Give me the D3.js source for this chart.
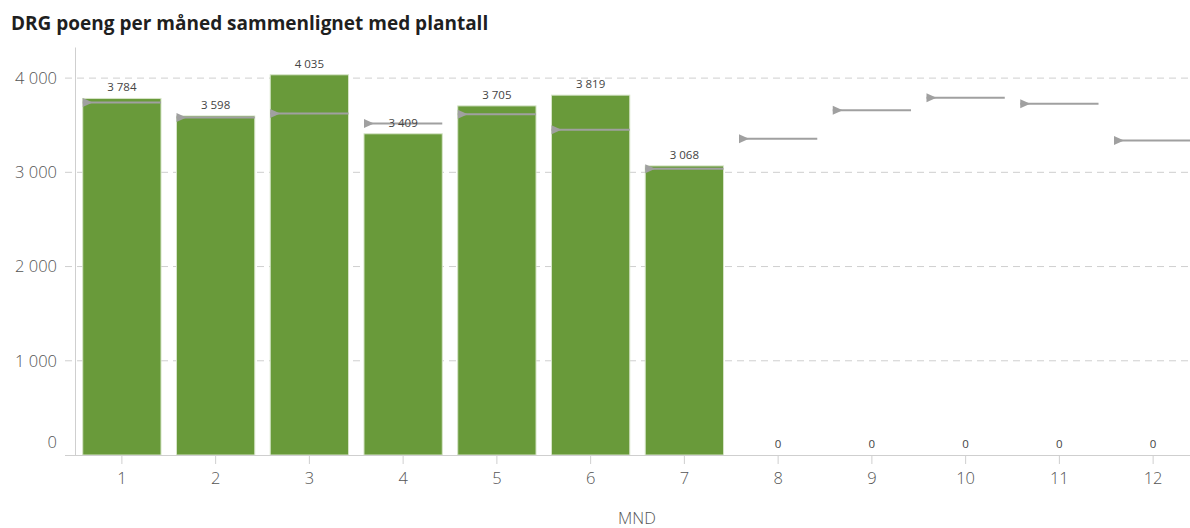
<!DOCTYPE html>
<html>
<head>
<meta charset="utf-8">
<script src="https://cdn.jsdelivr.net/npm/d3@7"></script>
<style>
  html, body { margin: 0; padding: 0; background: #fff; }
  svg { display: block; }
</style>
</head>
<body>
<svg id="chart" width="1190" height="528"></svg>
<script>
// Monthly DRG points (actual) and plan figures
const months = [1, 2, 3, 4, 5, 6, 7, 8, 9, 10, 11, 12];
const drgPoints = [3784, 3598, 4035, 3409, 3705, 3819, 3068, 0, 0, 0, 0, 0];
const planPoints = [3742, 3583, 3625, 3519, 3615, 3452, 3038, 3356, 3660, 3791, 3727, 3339];
const yTicks = [0, 1000, 2000, 3000, 4000];
const titleText = "DRG poeng per måned sammenlignet med plantall";
const xAxisTitle = "MND";

const svg = d3.select("#chart");
const width = 1190, height = 528;
const font = "Open Sans, sans-serif";

const locale = d3.formatLocale({ decimal: ",", thousands: "\u00a0", grouping: [3], currency: ["", " kr"] });
const fmt = locale.format(",d");

const x = d3.scaleBand().domain(months).range([75, 1200]).paddingInner(0.165).paddingOuter(0.0825);
const y = d3.scaleLinear().domain([0, 4330]).range([455, 47]);

// Title
svg.append("text")
  .attr("x", 11).attr("y", 30)
  .attr("font-family", font)
  .attr("font-weight", 700)
  .attr("font-size", 19)
  .attr("fill", "#1f1f1f")
  .text(titleText);

// Dashed gridlines (value axis)
svg.append("g")
  .selectAll("line")
  .data(yTicks.filter(d => d > 0))
  .join("line")
  .attr("x1", 65).attr("x2", width)
  .attr("y1", d => y(d)).attr("y2", d => y(d))
  .attr("stroke", "#cfcfcf")
  .attr("stroke-width", 1)
  .attr("stroke-dasharray", "7,5");

// Y axis
const yAxis = svg.append("g")
  .attr("transform", "translate(75,0)")
  .call(d3.axisLeft(y).tickValues(yTicks).tickFormat(fmt).tickSize(0).tickPadding(18));
yAxis.select(".domain").attr("stroke", "#cfcfcf");
yAxis.selectAll("text")
  .attr("font-family", font)
  .attr("font-weight", 300)
  .attr("font-size", 16.5)
  .attr("fill", "#555")
  .attr("dy", d => d === 0 ? "-0.45em" : "0.32em");

// Bars
svg.append("g")
  .selectAll("rect")
  .data(months.map((m, i) => ({ m, v: drgPoints[i] })).filter(d => d.v > 0))
  .join("rect")
  .attr("x", d => x(d.m))
  .attr("width", x.bandwidth())
  .attr("y", d => y(d.v))
  .attr("height", d => y(0) - y(d.v))
  .attr("fill", "#699a3a")
  .attr("stroke", "#d6e4c8")
  .attr("stroke-width", 1);

// X axis
const xAxis = svg.append("g")
  .attr("transform", "translate(0,455)")
  .call(d3.axisBottom(x).tickSizeOuter(0).tickSize(9).tickPadding(8));
xAxis.select(".domain").attr("stroke", "#cfcfcf").attr("d", `M65,0.5H${width}`);
xAxis.selectAll(".tick line").attr("stroke", "#cfcfcf");
xAxis.selectAll("text")
  .attr("font-family", font)
  .attr("font-weight", 300)
  .attr("font-size", 16.5)
  .attr("fill", "#555");

// Plan markers: triangle at band start with horizontal line across the band
const plan = svg.append("g")
  .selectAll("g")
  .data(months.map((m, i) => ({ m, v: planPoints[i] })))
  .join("g");
plan.append("line")
  .attr("x1", d => x(d.m))
  .attr("x2", d => x(d.m) + x.bandwidth())
  .attr("y1", d => y(d.v)).attr("y2", d => y(d.v))
  .attr("stroke", "#a0a0a0")
  .attr("stroke-width", 2);
plan.append("path")
  .attr("d", d => {
    const x0 = x(d.m), y0 = y(d.v);
    return `M${x0},${y0 - 4.5}L${x0 + 10},${y0}L${x0},${y0 + 4.5}Z`;
  })
  .attr("fill", "#a0a0a0");

// Value labels
svg.append("g")
  .selectAll("text")
  .data(months.map((m, i) => ({ m, v: drgPoints[i] })))
  .join("text")
  .attr("x", d => x(d.m) + x.bandwidth() / 2)
  .attr("y", d => d.v > 0 ? y(d.v) - 7 : y(0) - 7)
  .attr("text-anchor", "middle")
  .attr("font-family", font)
  .attr("font-size", 11.5)
  .attr("fill", "#444")
  .text(d => fmt(d.v));

// X axis title
svg.append("text")
  .attr("x", 637).attr("y", 524)
  .attr("text-anchor", "middle")
  .attr("font-family", font)
  .attr("font-weight", 300)
  .attr("font-size", 16.5)
  .attr("fill", "#555")
  .text(xAxisTitle);
</script>
</body>
</html>
